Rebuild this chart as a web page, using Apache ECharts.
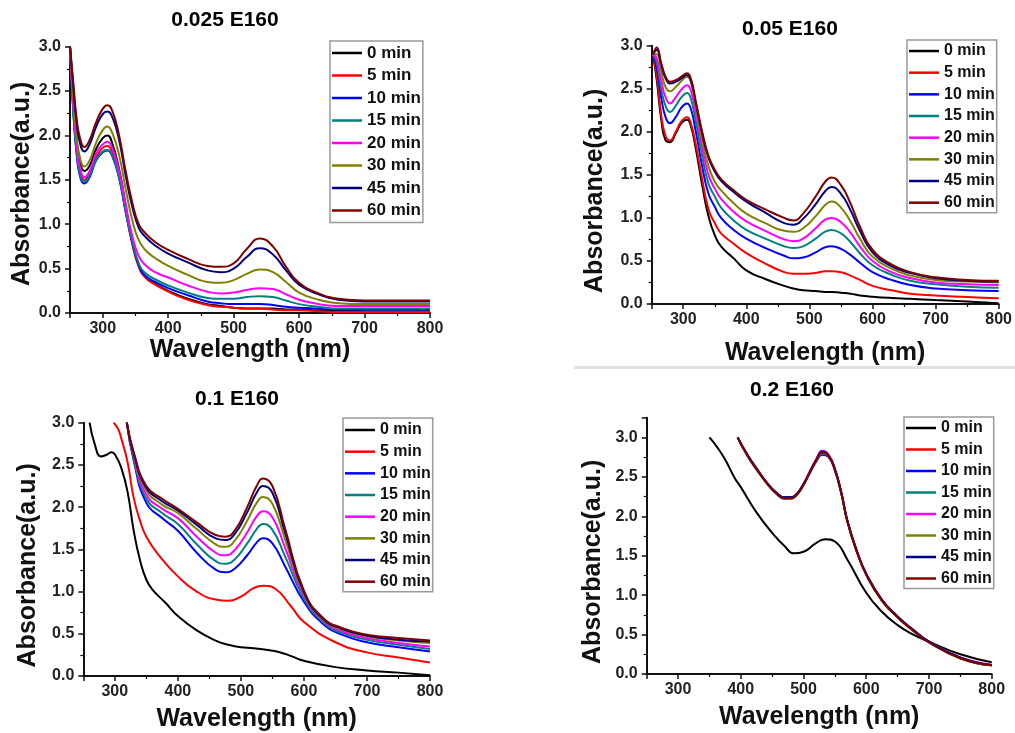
<!DOCTYPE html>
<html><head><meta charset="utf-8">
<script src="https://cdn.jsdelivr.net/npm/echarts@6/dist/echarts.min.js"></script>
<style>html,body{margin:0;padding:0;background:#fff}#c{width:1015px;height:733px}</style>
</head><body><div id="c"></div>
<script>
const FONT = "'Liberation Sans', Arial, sans-serif";
const names = ['0 min','5 min','10 min','15 min','20 min','30 min','45 min','60 min'];
const colors = ['#000000','#ff0000','#0000ff','#008080','#ff00ff','#808000','#000080','#800000'];
const titles = ['0.025 E160','0.05 E160','0.1 E160','0.2 E160'];

// Panel A: 0.025 E160
const wlA = [250,255,260,265,272,280,290,300,307,315,325,335,345,355,365,380,400,430,460,480,500,520,540,560,580,600,630,660,700,750,800];
const a0  = [3.0,2.4,1.95,1.72,1.6,1.66,1.85,1.97,2.0,1.9,1.62,1.22,0.8,0.54,0.41,0.33,0.25,0.16,0.1,0.08,0.06,0.05,0.05,0.05,0.04,0.04,0.03,0.03,0.02,0.02,0.02];
const a5  = [3.0,2.3,1.85,1.6,1.5,1.57,1.76,1.86,1.88,1.8,1.55,1.15,0.78,0.52,0.4,0.32,0.24,0.15,0.09,0.07,0.06,0.05,0.05,0.04,0.03,0.03,0.02,0.01,0.01,0.01,0.01];
const a10 = [3.0,2.27,1.8,1.55,1.46,1.53,1.72,1.81,1.83,1.76,1.52,1.14,0.8,0.54,0.42,0.35,0.28,0.2,0.13,0.11,0.1,0.1,0.1,0.09,0.07,0.06,0.05,0.04,0.04,0.04,0.04];
const a15 = [3.0,2.28,1.82,1.57,1.48,1.55,1.73,1.82,1.84,1.77,1.53,1.15,0.81,0.56,0.45,0.38,0.31,0.23,0.17,0.16,0.16,0.18,0.19,0.18,0.14,0.1,0.07,0.05,0.05,0.05,0.05];
const a20 = [3.0,2.35,1.9,1.65,1.53,1.6,1.8,1.9,1.93,1.85,1.6,1.22,0.87,0.64,0.54,0.46,0.4,0.31,0.24,0.22,0.23,0.26,0.28,0.27,0.21,0.15,0.1,0.08,0.08,0.08,0.08];
const a30 = [3.0,2.45,2.0,1.76,1.65,1.72,1.92,2.06,2.1,2.02,1.78,1.4,1.05,0.82,0.71,0.62,0.53,0.43,0.35,0.34,0.37,0.44,0.49,0.46,0.35,0.23,0.15,0.11,0.1,0.1,0.1];
const a45 = [3.0,2.55,2.15,1.92,1.82,1.9,2.1,2.24,2.27,2.2,1.95,1.55,1.2,0.96,0.86,0.76,0.67,0.57,0.48,0.46,0.5,0.63,0.73,0.66,0.48,0.32,0.21,0.15,0.13,0.13,0.13];
const a60 = [3.0,2.6,2.2,1.98,1.87,1.95,2.15,2.3,2.34,2.27,2.0,1.6,1.25,1.0,0.9,0.8,0.71,0.61,0.53,0.52,0.56,0.72,0.84,0.75,0.52,0.34,0.22,0.16,0.14,0.14,0.14];

// Panel B: 0.05 E160
const wlB = [252,258,265,272,279,288,297,306,312,320,330,340,350,360,380,400,430,460,475,490,510,525,535,550,565,580,600,630,660,700,750,800];
const b0  = [2.9,2.6,2.15,1.9,1.88,1.98,2.1,2.14,2.07,1.8,1.38,1.02,0.8,0.67,0.53,0.39,0.29,0.21,0.18,0.16,0.15,0.14,0.14,0.13,0.12,0.1,0.085,0.07,0.06,0.046,0.03,0.01];
const b5  = [2.9,2.65,2.2,1.95,1.9,2.0,2.12,2.17,2.1,1.85,1.45,1.1,0.94,0.82,0.7,0.59,0.47,0.37,0.35,0.35,0.36,0.38,0.38,0.37,0.33,0.28,0.21,0.16,0.12,0.1,0.08,0.066];
const b10 = [2.9,2.75,2.4,2.17,2.1,2.17,2.28,2.33,2.27,2.0,1.6,1.28,1.13,1.0,0.86,0.76,0.65,0.56,0.53,0.54,0.6,0.66,0.67,0.64,0.57,0.48,0.37,0.28,0.22,0.18,0.16,0.15];
const b15 = [2.9,2.8,2.5,2.3,2.23,2.3,2.4,2.45,2.39,2.12,1.72,1.4,1.25,1.12,0.97,0.86,0.76,0.67,0.65,0.67,0.76,0.84,0.86,0.82,0.72,0.59,0.45,0.34,0.27,0.23,0.2,0.19];
const b20 = [2.9,2.85,2.6,2.4,2.33,2.4,2.49,2.54,2.48,2.22,1.82,1.5,1.34,1.22,1.07,0.96,0.85,0.75,0.73,0.76,0.88,0.98,1.0,0.95,0.83,0.67,0.5,0.37,0.3,0.25,0.23,0.22];
const b30 = [2.9,2.9,2.7,2.52,2.47,2.52,2.59,2.64,2.58,2.3,1.9,1.6,1.42,1.32,1.17,1.05,0.94,0.85,0.84,0.88,1.02,1.15,1.19,1.12,0.96,0.76,0.55,0.41,0.33,0.28,0.26,0.25];
const b45 = [2.9,2.95,2.78,2.62,2.56,2.58,2.62,2.66,2.6,2.33,1.98,1.7,1.54,1.43,1.3,1.19,1.06,0.94,0.92,0.99,1.16,1.31,1.36,1.28,1.09,0.85,0.6,0.44,0.36,0.3,0.27,0.26];
const b60 = [2.9,2.98,2.8,2.64,2.58,2.6,2.64,2.68,2.62,2.35,2.0,1.72,1.56,1.45,1.32,1.21,1.1,1.0,0.97,1.05,1.25,1.42,1.47,1.38,1.17,0.9,0.63,0.46,0.37,0.31,0.28,0.27];

// Panel C: 0.1 E160
const wlC0 = [260,268,278,287,295,302,310,320,330,340,350,360,380,400,430,460,480,500,520,540,560,580,600,650,700,750,800];
const c0   = [3.0,2.75,2.6,2.62,2.65,2.6,2.47,2.19,1.72,1.37,1.14,1.02,0.87,0.71,0.54,0.42,0.37,0.34,0.33,0.31,0.285,0.235,0.18,0.105,0.066,0.04,0.01];
const wlC5 = [298,305,310,320,330,340,350,370,400,430,460,480,500,520,535,555,580,600,650,700,750,800];
const c5   = [3.0,2.93,2.82,2.54,2.11,1.84,1.65,1.43,1.18,1.0,0.905,0.89,0.94,1.04,1.07,1.03,0.82,0.64,0.4,0.28,0.22,0.16];
const wlC  = [319,330,350,375,400,430,460,475,490,510,525,535,550,570,600,630,660,700,750,800];
const c10 = [3.0,2.55,2.05,1.87,1.72,1.46,1.26,1.23,1.27,1.43,1.58,1.63,1.57,1.3,0.88,0.62,0.49,0.4,0.34,0.29];
const c15 = [3.0,2.57,2.1,1.93,1.8,1.56,1.36,1.33,1.38,1.57,1.74,1.8,1.73,1.42,0.92,0.64,0.51,0.43,0.37,0.32];
const c20 = [3.0,2.6,2.15,1.98,1.87,1.65,1.46,1.43,1.49,1.7,1.89,1.95,1.88,1.52,0.95,0.66,0.53,0.45,0.39,0.35];
const c30 = [3.0,2.62,2.2,2.03,1.93,1.74,1.56,1.53,1.6,1.84,2.05,2.12,2.04,1.62,0.97,0.67,0.55,0.47,0.42,0.39];
const c45 = [3.0,2.63,2.23,2.07,1.96,1.79,1.63,1.61,1.68,1.94,2.17,2.25,2.17,1.7,0.99,0.68,0.56,0.48,0.43,0.41];
const c60 = [3.0,2.65,2.25,2.1,1.98,1.82,1.67,1.65,1.72,2.0,2.25,2.34,2.25,1.75,1.01,0.69,0.57,0.49,0.45,0.42];

// Panel D: 0.2 E160
const wlD0 = [350,362,375,390,400,425,450,470,485,500,520,535,550,570,600,625,650,675,700,750,800];
const d0   = [3.0,2.88,2.72,2.49,2.37,2.05,1.79,1.62,1.53,1.55,1.66,1.71,1.68,1.45,1.03,0.79,0.62,0.5,0.41,0.25,0.15];
const wlD  = [395,410,425,440,455,470,480,490,500,510,520,530,540,550,560,570,585,600,625,650,675,700,750,800];
const d5  = [3.0,2.78,2.6,2.44,2.3,2.23,2.23,2.28,2.4,2.55,2.7,2.8,2.76,2.59,2.3,1.93,1.55,1.26,0.93,0.72,0.55,0.41,0.2,0.11];
const d10 = [3.0,2.78,2.6,2.44,2.31,2.24,2.24,2.29,2.41,2.55,2.69,2.78,2.75,2.58,2.3,1.94,1.56,1.27,0.94,0.72,0.55,0.41,0.2,0.11];
const d15 = [3.0,2.77,2.59,2.43,2.3,2.22,2.23,2.28,2.4,2.56,2.71,2.81,2.77,2.6,2.31,1.94,1.56,1.26,0.93,0.72,0.55,0.4,0.2,0.11];
const d20 = [3.0,2.78,2.6,2.44,2.31,2.23,2.23,2.29,2.41,2.57,2.72,2.83,2.78,2.6,2.31,1.94,1.56,1.27,0.94,0.73,0.56,0.41,0.21,0.12];
const d30 = [3.0,2.78,2.6,2.43,2.3,2.23,2.22,2.28,2.4,2.55,2.7,2.8,2.76,2.59,2.3,1.93,1.55,1.26,0.93,0.72,0.55,0.41,0.2,0.11];
const d45 = [3.0,2.79,2.61,2.44,2.31,2.24,2.24,2.29,2.41,2.56,2.71,2.82,2.77,2.6,2.31,1.94,1.56,1.27,0.94,0.73,0.56,0.41,0.21,0.11];
const d60 = [3.0,2.78,2.6,2.44,2.3,2.23,2.23,2.28,2.4,2.56,2.71,2.81,2.77,2.59,2.3,1.93,1.55,1.26,0.93,0.72,0.55,0.4,0.2,0.11];

const panels = [
  {wl:[wlA,wlA,wlA,wlA,wlA,wlA,wlA,wlA], v:[a0,a5,a10,a15,a20,a30,a45,a60]},
  {wl:[wlB,wlB,wlB,wlB,wlB,wlB,wlB,wlB], v:[b0,b5,b10,b15,b20,b30,b45,b60]},
  {wl:[wlC0,wlC5,wlC,wlC,wlC,wlC,wlC,wlC], v:[c0,c5,c10,c15,c20,c30,c45,c60]},
  {wl:[wlD0,wlD,wlD,wlD,wlD,wlD,wlD,wlD], v:[d0,d5,d10,d15,d20,d30,d45,d60]}
];

// layout
const grids = [
  {left:70, top:46.7, width:360, height:266.3},
  {left:651.7, top:45.7, width:348.3, height:258.3},
  {left:83.3, top:422.7, width:346.7, height:256.3},
  {left:646.7, top:417.7, width:345, height:256.3}
];
const yMax = [3, 3, 3, 3.25];
const xGap = [25, 36.5, 31, 31];
const yGap = [32.5, 44, 42.8, 40.7];
const yShift = [8, 32, 32, 32];
const titlePos = [[225,20],[790,29.5],[237,399],[792,390]];
const legendPos = [
  {left:330, top:41, fs:17, gap:2.5, pad:[2,2,2,2]},
  {left:907, top:40, fs:16, gap:1.67, pad:[1,2,0,2]},
  {left:343, top:418, fs:16, gap:1.67, pad:[2,2,0,2]},
  {left:904, top:417, fs:16, gap:1.5, pad:[1,2,0,2]}
];

const xAxes = [], yAxes = [], series = [], legends = [], graphics = [];
for (let p = 0; p < 4; p++) {
  xAxes.push({
    type:'value', gridIndex:p, min:250, max:800, splitNumber:5,
    name:'Wavelength (nm)', nameLocation:'middle', nameGap:xGap[p],
    nameTextStyle:{fontSize:25, fontWeight:'bold', color:'#111', fontFamily:FONT},
    axisLine:{show:true, lineStyle:{color:'#111', width:2}},
    axisTick:{show:true, length:5, lineStyle:{color:'#111', width:1.5}},
    minorTick:{show:true, splitNumber:2, length:3, lineStyle:{color:'#111', width:1.2}},
    axisLabel:{showMinLabel:false, fontSize:16, fontWeight:'bold', color:'#222', margin:8, fontFamily:FONT},
    splitLine:{show:false}
  });
  yAxes.push({
    type:'value', gridIndex:p, min:0, max:yMax[p], interval:0.5,
    name:'Absorbance(a.u.)', nameLocation:'middle', nameGap:yGap[p], nameRotate:90,
    nameTextStyle:{fontSize:25, fontWeight:'bold', color:'#111', fontFamily:FONT, padding:[0,yShift[p],0,0]},
    axisLine:{show:true, lineStyle:{color:'#111', width:2}},
    axisTick:{show:true, length:5, lineStyle:{color:'#111', width:1.5}},
    minorTick:{show:true, splitNumber:2, length:3, lineStyle:{color:'#111', width:1.2}},
    axisLabel:{showMaxLabel: p === 3 ? false : true, formatter:v => v.toFixed(1), fontSize:16, fontWeight:'bold', color:'#222', margin:9, fontFamily:FONT},
    splitLine:{show:false}
  });
  for (let i = 0; i < 8; i++) {
    const wl = panels[p].wl[i], vals = panels[p].v[i];
    series.push({
      type:'line', name:names[i], xAxisIndex:p, yAxisIndex:p,
      data: wl.map((x,k) => [x, vals[k]]),
      symbol:'none', showSymbol:false, smooth:0.5,
      lineStyle:{width:2, color:colors[i]}, itemStyle:{color:colors[i]},
      emphasis:{disabled:true}, animation:false
    });
  }
  const L = legendPos[p];
  legends.push({
    data:names, orient:'vertical', left:L.left, top:L.top,
    icon:'rect', itemWidth:30, itemHeight:2.5, itemGap:L.gap, padding:L.pad,
    borderColor:'#999', borderWidth:1.5,
    textStyle:{fontSize:L.fs, fontWeight:'bold', color:'#111', fontFamily:FONT, lineHeight:20},
    selectedMode:false
  });
  graphics.push({
    type:'text', x:titlePos[p][0], y:titlePos[p][1],
    style:{text:titles[p], fill:'#000', font:'bold 21px ' + FONT, textAlign:'center', textVerticalAlign:'middle'}
  });
}
graphics.push({type:'rect', shape:{x:574, y:366, width:441, height:3}, style:{fill:'#e2e2e2'}, z:-1});

const chart = echarts.init(document.getElementById('c'), null, {renderer:'canvas'});
chart.setOption({
  backgroundColor:'#fff',
  animation:false,
  grid: grids,
  xAxis: xAxes,
  yAxis: yAxes,
  legend: legends,
  graphic: graphics,
  series: series
});
</script>
</body></html>
